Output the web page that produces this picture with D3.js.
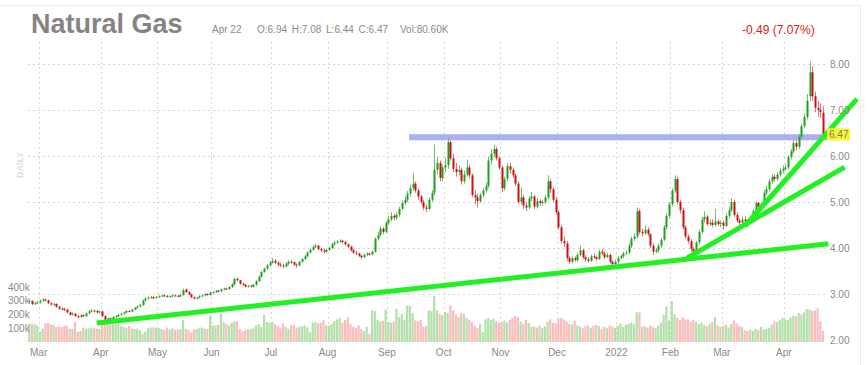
<!DOCTYPE html>
<html><head><meta charset="utf-8">
<script src="https://cdn.jsdelivr.net/npm/d3@7"></script>
<style>html,body{margin:0;padding:0;background:#fff;}svg{display:block;font-family:"Liberation Sans",Arial,Helvetica,sans-serif;}</style>
</head><body><svg id="c" width="867" height="365"></svg>
<script>
// ---- categories ----
const startDate = "2021-02-23", endDate = "2022-04-22";
const holidays = ["2021-04-02","2021-05-31","2021-07-05","2021-09-06","2021-11-25","2021-12-24","2022-01-17","2022-02-21","2022-04-15"];
const monthNames = ["Jan","Feb","Mar","Apr","May","Jun","Jul","Aug","Sep","Oct","Nov","Dec"];
// ---- series (daily OHLC, volume in thousands) ----
const open = [
2.83,2.85,2.78,2.80,
2.82,2.85,2.88,2.86,2.80,2.77,2.78,2.72,2.68,2.67,2.66,2.60,2.55,2.57,2.52,2.50,2.54,2.52,2.58,2.62,2.64,2.63,2.60,
2.62,2.52,2.44,2.47,2.45,2.50,2.52,2.55,2.57,2.60,2.63,2.62,2.66,2.70,2.73,2.76,2.86,2.90,2.92,2.93,2.92,
2.94,2.95,2.97,2.96,2.94,2.95,2.97,2.96,2.95,2.98,3.10,3.04,2.99,2.93,2.90,2.92,2.95,2.97,3.00,2.98,
3.03,3.04,3.07,3.06,3.10,3.12,3.11,3.15,3.21,3.33,3.30,3.22,3.20,3.16,3.18,3.16,3.20,3.28,3.38,3.48,3.55,3.62,
3.68,3.72,3.68,3.64,3.62,3.60,3.66,3.70,3.69,3.64,3.62,3.70,3.76,3.82,3.90,3.96,4.02,4.05,3.98,3.95,3.92,
3.96,4.00,4.08,4.12,4.14,4.16,4.13,4.08,4.03,3.95,3.90,3.88,3.83,3.80,3.85,3.88,3.86,3.92,4.20,4.28,4.42,4.35,
4.55,4.62,4.70,4.66,4.72,4.85,4.98,5.05,5.18,5.30,5.40,5.25,5.12,5.00,4.88,4.85,5.05,5.20,5.70,5.85,5.52,
5.75,5.80,6.30,5.95,5.72,5.65,5.70,5.45,5.60,5.75,5.58,5.15,5.10,5.02,5.15,5.25,5.35,5.90,6.05,6.15,5.95,
5.75,5.30,5.50,5.78,5.70,5.58,5.40,5.00,5.10,4.92,4.88,5.08,5.12,4.90,5.02,4.98,5.00,5.10,5.45,5.28,5.05,
4.78,4.45,4.15,4.10,3.78,3.70,3.78,3.74,3.85,3.95,3.80,3.75,3.72,3.82,3.80,3.76,3.92,3.88,3.80,3.85,3.70,3.65,
3.70,3.78,3.82,3.88,3.90,4.05,4.20,4.25,4.80,4.35,4.32,4.40,4.30,4.05,3.92,3.95,4.05,4.18,4.45,4.70,
4.95,5.25,5.50,5.00,4.82,4.45,4.25,4.15,3.98,3.92,4.12,4.35,4.62,4.68,4.52,4.55,4.50,4.58,4.52,
4.55,4.48,4.70,4.82,5.00,4.72,4.60,4.55,4.62,4.58,4.55,4.62,4.80,4.98,4.90,4.95,5.20,5.28,5.45,5.55,5.50,5.60,5.68,
5.72,5.75,5.98,6.10,6.28,6.20,6.42,6.65,6.85,7.30,7.82,7.30,7.05,7.00,6.94];
const high = [
2.88,2.86,2.83,2.85,
2.88,2.91,2.90,2.88,2.82,2.81,2.80,2.74,2.71,2.70,2.68,2.62,2.60,2.59,2.54,2.56,2.56,2.60,2.65,2.67,2.66,2.65,2.64,
2.64,2.54,2.49,2.49,2.52,2.54,2.57,2.59,2.62,2.65,2.65,2.68,2.72,2.75,2.79,2.88,2.93,2.95,2.96,2.96,2.96,
2.97,2.99,2.99,2.98,2.97,2.99,2.99,2.98,3.00,3.12,3.12,3.06,3.01,2.95,2.94,2.97,2.99,3.02,3.02,3.05,
3.06,3.09,3.09,3.12,3.14,3.14,3.17,3.24,3.36,3.36,3.31,3.25,3.22,3.20,3.20,3.22,3.30,3.40,3.50,3.58,3.65,3.72,
3.78,3.76,3.72,3.68,3.66,3.69,3.73,3.74,3.71,3.67,3.72,3.78,3.85,3.93,3.99,4.06,4.10,4.07,4.01,3.98,3.99,
4.03,4.11,4.15,4.17,4.19,4.18,4.15,4.10,4.05,3.98,3.93,3.90,3.85,3.88,3.91,3.90,3.95,4.23,4.35,4.48,4.46,4.58,
4.70,4.78,4.75,4.78,4.90,5.03,5.12,5.24,5.38,5.62,5.45,5.30,5.15,5.05,4.95,5.10,5.26,6.25,5.98,5.90,5.82,
5.95,6.40,6.35,6.05,5.85,5.80,5.75,5.68,5.92,5.82,5.62,5.25,5.18,5.20,5.30,5.42,5.98,6.15,6.25,6.20,6.00,
5.80,5.55,5.85,5.85,5.75,5.62,5.45,5.32,5.15,5.00,5.12,5.22,5.15,5.08,5.06,5.05,5.15,5.58,5.50,5.32,5.10,
4.82,4.50,4.25,4.15,3.82,3.82,3.82,3.90,4.05,3.98,3.84,3.80,3.86,3.88,3.84,3.96,3.98,3.92,3.90,3.88,3.74,3.75,
3.82,3.86,3.92,3.95,4.10,4.25,4.32,4.88,4.85,4.42,4.48,4.45,4.32,4.10,4.00,4.10,4.22,4.50,4.75,5.00,
5.30,5.58,5.55,5.05,4.88,4.50,4.30,4.20,4.02,4.15,4.40,4.68,4.80,4.72,4.62,4.62,4.85,4.62,4.60,
4.60,4.75,4.90,5.08,5.05,4.78,4.65,4.68,4.68,4.62,4.66,4.85,5.02,5.00,5.00,5.25,5.35,5.50,5.62,5.60,5.65,5.74,5.80,
5.82,6.02,6.15,6.35,6.35,6.48,6.70,6.92,7.35,8.05,7.95,7.40,7.20,7.15,7.08];
const low = [
2.80,2.76,2.76,2.78,
2.79,2.83,2.84,2.78,2.75,2.75,2.70,2.66,2.65,2.63,2.58,2.53,2.53,2.50,2.47,2.48,2.50,2.50,2.56,2.60,2.60,2.57,2.58,
2.50,2.41,2.42,2.43,2.43,2.48,2.50,2.53,2.55,2.58,2.60,2.60,2.64,2.68,2.71,2.74,2.84,2.88,2.90,2.89,2.90,
2.92,2.93,2.94,2.92,2.92,2.93,2.94,2.93,2.93,2.96,3.02,2.97,2.91,2.88,2.88,2.90,2.93,2.95,2.96,2.96,
3.01,3.02,3.04,3.04,3.08,3.09,3.09,3.13,3.19,3.27,3.20,3.18,3.14,3.14,3.14,3.14,3.18,3.26,3.36,3.46,3.53,3.60,
3.66,3.65,3.60,3.58,3.56,3.58,3.63,3.66,3.61,3.57,3.60,3.68,3.74,3.80,3.88,3.94,4.00,3.95,3.91,3.88,3.90,
3.93,3.97,4.05,4.09,4.11,4.10,4.05,4.00,3.92,3.87,3.85,3.80,3.75,3.78,3.82,3.83,3.84,3.90,4.16,4.25,4.30,4.32,
4.50,4.58,4.60,4.62,4.68,4.82,4.93,5.00,5.12,5.25,5.20,5.05,4.95,4.82,4.78,4.82,5.00,5.15,5.60,5.45,5.45,
5.65,5.72,5.90,5.65,5.55,5.58,5.38,5.40,5.55,5.50,5.10,4.95,4.88,4.98,5.10,5.20,5.30,5.82,5.98,5.90,5.70,
5.22,5.25,5.45,5.62,5.52,5.35,4.95,4.95,4.85,4.80,4.85,5.02,4.85,4.86,4.92,4.92,4.95,5.05,5.20,5.00,4.72,
4.40,4.10,4.02,3.72,3.65,3.66,3.70,3.70,3.82,3.76,3.70,3.68,3.70,3.76,3.72,3.74,3.84,3.76,3.78,3.66,3.60,3.62,
3.66,3.75,3.78,3.85,3.86,4.00,4.15,4.20,4.30,4.25,4.28,4.25,4.00,3.85,3.88,3.90,4.00,4.15,4.40,4.65,
4.90,5.20,4.95,4.75,4.40,4.20,4.10,3.92,3.82,3.88,4.08,4.30,4.55,4.48,4.48,4.45,4.46,4.48,4.45,
4.40,4.45,4.65,4.78,4.68,4.55,4.50,4.52,4.52,4.50,4.52,4.58,4.76,4.85,4.86,4.90,5.15,5.22,5.40,5.45,5.45,5.55,5.62,
5.68,5.70,5.92,6.05,6.12,6.15,6.38,6.60,6.80,7.20,7.20,6.95,6.85,6.82,6.44];
const close = [
2.85,2.78,2.80,2.82,
2.85,2.88,2.86,2.80,2.77,2.78,2.72,2.68,2.67,2.66,2.60,2.55,2.57,2.52,2.50,2.54,2.52,2.58,2.62,2.64,2.63,2.60,2.62,
2.52,2.44,2.47,2.45,2.50,2.52,2.55,2.57,2.60,2.63,2.62,2.66,2.70,2.73,2.76,2.86,2.90,2.92,2.93,2.92,2.94,
2.95,2.97,2.96,2.94,2.95,2.97,2.96,2.95,2.98,3.08,3.04,2.99,2.93,2.90,2.92,2.95,2.97,3.00,2.98,3.03,
3.04,3.07,3.06,3.10,3.12,3.11,3.15,3.21,3.33,3.30,3.22,3.20,3.16,3.18,3.16,3.20,3.28,3.38,3.48,3.55,3.62,3.68,
3.72,3.68,3.64,3.62,3.60,3.66,3.70,3.69,3.64,3.62,3.70,3.76,3.82,3.90,3.96,4.02,4.05,3.98,3.95,3.92,3.96,
4.00,4.08,4.12,4.14,4.16,4.13,4.08,4.03,3.95,3.90,3.88,3.83,3.80,3.85,3.88,3.86,3.92,4.20,4.28,4.42,4.35,4.55,
4.62,4.70,4.66,4.72,4.85,4.98,5.05,5.18,5.30,5.40,5.25,5.12,5.00,4.88,4.85,5.05,5.20,5.70,5.85,5.52,5.75,
5.80,6.30,5.95,5.72,5.65,5.70,5.45,5.60,5.75,5.58,5.15,5.10,5.02,5.15,5.25,5.35,5.90,6.05,6.15,5.95,5.75,
5.30,5.50,5.78,5.70,5.58,5.40,5.00,5.10,4.92,4.88,5.08,5.12,4.90,5.02,4.98,5.00,5.10,5.45,5.28,5.05,4.78,
4.45,4.15,4.10,3.78,3.70,3.78,3.74,3.85,3.95,3.80,3.75,3.72,3.82,3.80,3.76,3.92,3.88,3.80,3.85,3.70,3.65,3.70,
3.78,3.82,3.88,3.90,4.05,4.20,4.25,4.80,4.35,4.32,4.40,4.30,4.05,3.92,3.95,4.05,4.18,4.45,4.70,4.95,
5.25,5.50,5.00,4.82,4.45,4.25,4.15,3.98,3.92,4.12,4.35,4.62,4.68,4.52,4.55,4.50,4.58,4.52,4.55,
4.48,4.70,4.82,5.00,4.72,4.60,4.55,4.62,4.58,4.55,4.62,4.80,4.98,4.90,4.95,5.20,5.28,5.45,5.55,5.50,5.60,5.68,5.72,
5.75,5.98,6.10,6.28,6.20,6.42,6.65,6.85,7.20,7.82,7.30,7.05,7.00,6.96,6.47];
const volume = [
133,133,128,120,
73,97,135,138,128,125,110,112,108,121,118,97,95,145,73,80,105,97,100,105,100,97,95,
133,130,133,128,133,130,135,118,110,100,120,97,95,97,85,60,75,100,105,108,105,
100,95,90,105,92,100,88,90,92,162,95,85,70,90,95,100,105,98,95,194,
121,120,125,206,145,130,120,140,153,150,95,80,85,90,95,100,120,130,110,200,145,140,
145,130,120,100,135,110,97,120,125,105,110,115,120,105,73,140,145,135,140,157,120,
120,130,150,165,175,140,160,180,130,110,100,120,95,80,110,60,230,225,160,150,155,235,
145,140,150,242,180,205,160,265,260,210,157,150,160,110,115,230,225,335,230,205,195,
218,210,265,230,200,180,210,205,175,160,145,120,100,130,73,165,175,160,170,150,140,
145,155,140,160,175,190,180,150,130,160,140,110,115,105,120,100,115,150,165,140,135,
170,175,165,150,130,125,155,120,110,100,115,120,105,120,125,115,95,110,100,120,110,100,
120,135,110,125,130,140,130,218,215,110,115,105,120,110,100,120,140,195,260,157,
298,200,175,160,180,165,165,150,160,145,130,140,125,115,130,145,180,120,110,
115,125,105,130,157,135,120,110,85,80,90,80,95,85,110,90,95,100,125,150,145,160,175,
165,160,180,190,185,210,200,215,240,235,225,230,245,150,80.6];
// ---- ticks & annotations (in trading-day index / price units) ----
const priceTicks = [2,3,4,5,6,7,8];
const gridPrices = [3,4,5,6,7,8];
const volumeTicks = [100,200,300,400];
const trendLines = [
  {i0:25,   p0:2.37, i1:296,   p1:4.09},
  {i0:243.6,p0:3.78, i1:302,   p1:5.76},
  {i0:265.1,p0:4.48, i1:306.6, p1:7.24}
];
const resistance = {i0:140.7, i1:295.5, p:6.41};
const lastPriceLabel = 6.47;

// ---- build ----
function tradingDays(s, e, hol){
  const out=[], hs=new Set(hol);
  const d=new Date(s+"T12:00:00Z"), end=new Date(e+"T12:00:00Z");
  while(d<=end){
    const wd=d.getUTCDay(), k=d.toISOString().slice(0,10);
    if(wd>0&&wd<6&&!hs.has(k)) out.push(k);
    d.setUTCDate(d.getUTCDate()+1);
  }
  return out;
}
const dates = tradingDays(startDate, endDate, holidays);
const n = Math.min(dates.length, open.length, high.length, low.length, close.length, volume.length);
const data = d3.range(n).map(i=>({i, date:dates[i], o:open[i], h:Math.max(high[i],open[i],close[i]), l:Math.min(low[i],open[i],close[i]), c:close[i], v:volume[i]}));

const svg = d3.select("#c");
const x = d3.scaleLinear().domain([0, n-1]).range([29.2, 823]);
const y = d3.scaleLinear().domain([2, 8]).range([340, 64]);
const yv = d3.scaleLinear().domain([0, 400]).range([342, 287]);

// frame
svg.append("path").attr("d","M0,5.5H860.5V365").attr("fill","none").attr("stroke","#ececec");

// month starts
const monthStarts = [];
for(let i=1;i<n;i++){ if(dates[i].slice(5,7)!==dates[i-1].slice(5,7)) monthStarts.push(i); }
const monthLabel = i => { const m=+dates[i].slice(5,7); return m===1 ? dates[i].slice(0,4) : monthNames[m-1]; };

const grid = svg.append("g").attr("stroke","#d6d6d6").attr("stroke-dasharray","2,3").attr("stroke-width",1);
grid.selectAll("line.v").data(monthStarts).join("line")
  .attr("x1",i=>Math.round(x(i-0.5))+0.5).attr("x2",i=>Math.round(x(i-0.5))+0.5).attr("y1",42).attr("y2",342);
grid.selectAll("line.h").data(gridPrices).join("line")
  .attr("x1",28).attr("x2",826).attr("y1",p=>Math.round(y(p))+0.5).attr("y2",p=>Math.round(y(p))+0.5);

// volume
svg.append("g").selectAll("rect").data(data).join("rect")
  .attr("x",d=>x(d.i)-1.1).attr("width",2.2)
  .attr("y",d=>yv(d.v)).attr("height",d=>yv(0)-yv(d.v))
  .attr("fill",d=>d.c>=d.o?"#b3e0aa":"#fbbcbc");

// resistance band
svg.append("line").attr("x1",x(resistance.i0)).attr("x2",x(resistance.i1))
  .attr("y1",y(resistance.p)).attr("y2",y(resistance.p))
  .attr("stroke","#aab0f4").attr("stroke-width",6);

// candles
const cg = svg.append("g");
cg.selectAll("line").data(data).join("line")
  .attr("x1",d=>Math.round(x(d.i))+0.5).attr("x2",d=>Math.round(x(d.i))+0.5)
  .attr("y1",d=>y(d.h)).attr("y2",d=>y(d.l))
  .attr("stroke",d=>d.c>=d.o?"#6cc06c":"#dd7777").attr("stroke-width",1);
cg.selectAll("rect").data(data).join("rect")
  .attr("x",d=>Math.round(x(d.i))-0.5).attr("width",2)
  .attr("y",d=>y(Math.max(d.o,d.c))).attr("height",d=>Math.max(1,Math.abs(y(d.o)-y(d.c))))
  .attr("fill",d=>d.c>=d.o?"#1f9e1f":"#c81010");

// trend lines
svg.append("g").selectAll("line").data(trendLines).join("line")
  .attr("x1",t=>x(t.i0)).attr("y1",t=>y(t.p0)).attr("x2",t=>x(t.i1)).attr("y2",t=>y(t.p1))
  .attr("stroke","#22f022").attr("stroke-width",5).attr("stroke-linecap","butt");

// axes labels
const txt = svg.append("g").attr("fill","#8a8a8a").attr("font-size","10px");
txt.selectAll("text.p").data(priceTicks).join("text")
  .attr("x",830).attr("y",p=>y(p)+3.5).text(p=>p.toFixed(2));
txt.selectAll("text.v").data(volumeTicks).join("text")
  .attr("x",8).attr("y",v=>yv(v)+3.5).text(v=>v+"k");
txt.selectAll("text.m").data(monthStarts).join("text")
  .attr("x",i=>x(i-0.5)).attr("y",356).attr("text-anchor","middle").text(monthLabel);

// last price tag
svg.append("rect").attr("x",827).attr("y",y(lastPriceLabel)-6).attr("width",23).attr("height",12).attr("fill","#f7f72e");
svg.append("text").attr("x",829).attr("y",y(lastPriceLabel)+3.5).attr("font-size","10px").attr("fill","#777")
  .text(lastPriceLabel.toFixed(2));

// DAILY
svg.append("text").attr("transform","translate(23,165) rotate(-90)").attr("text-anchor","middle")
  .attr("font-size","9px").attr("font-weight","bold").attr("fill","#dedede").text("DAILY");

// header
const last = data[n-1];
const ld = new Date(last.date+"T12:00:00Z");
svg.append("text").attr("x",31).attr("y",33).attr("font-size","27px").attr("font-weight","bold").attr("fill","#848484").text("Natural Gas");
const hdr = svg.append("g").attr("fill","#8a8a8a").attr("font-size","10px");
hdr.append("text").attr("x",212).attr("y",33).text(monthNames[ld.getUTCMonth()]+" "+ld.getUTCDate());
hdr.append("text").attr("x",257).attr("y",33).attr("word-spacing","2px")
  .text(`O:${last.o.toFixed(2)} H:${last.h.toFixed(2)} L:${last.l.toFixed(2)} C:${last.c.toFixed(2)}`);
hdr.append("text").attr("x",400).attr("y",33).text(`Vol:${last.v.toFixed(2)}K`);
svg.append("text").attr("x",742).attr("y",34).attr("font-size","12px").attr("fill","#d42020").text("-0.49 (7.07%)");
</script></body></html>
